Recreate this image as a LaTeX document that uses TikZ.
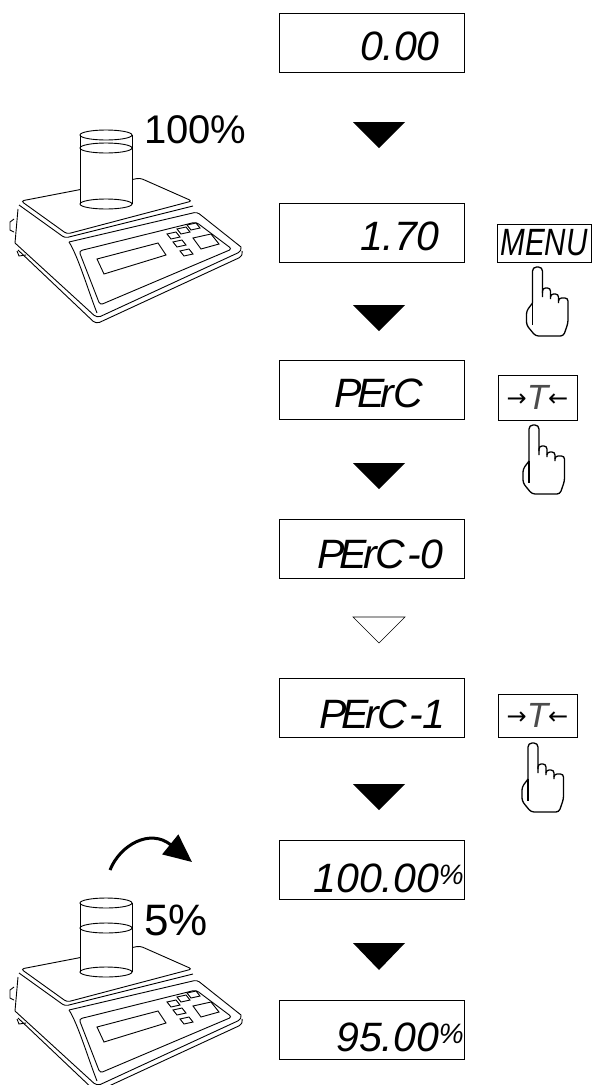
\documentclass[tikz,border=0pt]{standalone}
\usepackage{fontspec}
\setmainfont{Liberation Sans}
\newfontfamily\symfont{DejaVu Sans}
\usetikzlibrary{arrows.meta}

\tikzset{
  display/.style={draw, line width=0.8pt, minimum width=185pt, minimum height=59pt, inner sep=0pt},
  disptext/.style={font=\fontsize{41}{41}\selectfont\itshape, anchor=base east, inner sep=0pt},
  keybox/.style={draw, line width=0.8pt, inner sep=0pt},
  pcttext/.style={anchor=base west, inner sep=0pt},
  pics/hand/.style={code={
    \draw[line width=1.3pt, rounded corners=4pt] (-5,36) -- (-5,0) -- (5,0) -- (5,30);
    \draw[line width=1.3pt, rounded corners=3pt] (5,26) -- (5,21) -- (13,21) -- (13,32);
    \draw[line width=1.3pt, rounded corners=3pt] (13,30) -- (13,27) -- (21,27) -- (21,36);
    \draw[line width=1.3pt, rounded corners=3pt] (21,34) -- (21,31) -- (30.5,31) -- (30.5,56) -- (26,69) -- (-2,69) -- (-11,58) -- (-11,44) -- (-5,36);
    \draw[line width=1.3pt] (-5,36) -- (-5,58);
  }},
  pics/balance/.style={code={
    \begin{scope}[line width=0.9pt]
    % plate
    \draw[rounded corners=3pt] (21,201) -- (140,178) -- (192,201) -- (67,234) -- cycle;
    \draw[rounded corners=3pt] (19,205) -- (65,238) -- (193,206);
    % body
    \draw (18,209) -- (15,243);
    \draw[rounded corners=3pt] (69,242) -- (197,212) -- (241,247);
    \draw (69,242) .. controls (78,256) and (88,290) .. (97,313);
    \draw[rounded corners=4pt] (15,243) -- (97,318) -- (242,251) -- (241,247);
    \draw[rounded corners=4pt] (18,250) -- (96,324) -- (243,256) -- (242,251);
    \draw[rounded corners=3pt] (79,251) -- (196,222) -- (232,249) -- (100,305) -- cycle;
    % display and keys
    \draw (97,259) -- (158,243) -- (166,255) -- (104,274) -- cycle;
    \draw (167,234) -- (176,232) -- (180,237) -- (171,239) -- cycle;
    \draw (177,229) -- (186,227) -- (190,232) -- (181,234) -- cycle;
    \draw (187,225) -- (196,223) -- (200,228) -- (191,230) -- cycle;
    \draw (173,242) -- (182,240) -- (186,245) -- (177,247) -- cycle;
    \draw (180,251) -- (189,249) -- (193,254) -- (184,256) -- cycle;
    \draw (193,238) -- (211,234) -- (219,244) -- (201,249) -- cycle;
    % knob and foot
    \draw (14,219) -- (10,222) -- (10,230) -- (14,232);
    \draw (17,251) -- (19,256) -- (26,255);
    % glass
    \fill[white] (80,135) rectangle (132,204);
    \fill[white] (106,204) ellipse [x radius=26, y radius=5];
    \draw (80,135) -- (80,204);
    \draw (132,135) -- (132,204);
    \draw (106,135) ellipse [x radius=26, y radius=5];
    \draw (106,204) ellipse [x radius=26, y radius=5];
    \draw (106,#1) ellipse [x radius=26, y radius=5];
    \end{scope}
  }}
}

\begin{document}
\begin{tikzpicture}[x=1pt, y=-1pt]
\useasboundingbox (0,0) rectangle (592,1085);

% Displays
\node[display] (d0) at (372,42.5) {};
\node[display] (d1) at (372,233) {};
\node[display] (d2) at (372,389.5) {};
\node[display] (d3) at (372,548.5) {};
\node[display] (d4) at (372,707.5) {};
\node[display] (d5) at (372,870) {};
\node[display] (d6) at (372,1029.5) {};

\node[disptext] (t0) at (440,60) {0.00};
\node[disptext] (t1) at (440,250) {1.70};
\node[disptext] (t2) at (423,407) {P\kern-5ptE\kern-4ptr\kern-1ptC};
\node[disptext] (t3) at (444,568) {P\kern-5ptE\kern-4ptr\kern-1ptC\kern2pt-0};
\node[disptext] (t4) at (446,728) {P\kern-5ptE\kern-4ptr\kern-1ptC\kern2pt-1};
\node[disptext] (t5) at (464,892) {100.00\raisebox{8pt}{\fontsize{28}{28}\selectfont\%}};
\node[disptext] (t6) at (464,1051) {95.00\raisebox{8pt}{\fontsize{28}{28}\selectfont\%}};

% Steps
\fill (353,122) -- (405,122) -- (379,148) -- cycle;
\fill (353,305) -- (405,305) -- (379,331) -- cycle;
\fill (353,463) -- (405,463) -- (379,489) -- cycle;
\draw[line width=0.6pt] (353,617) -- (405,617) -- (379,643) -- cycle;
\fill (353,784) -- (405,784) -- (379,810) -- cycle;
\fill (353,943) -- (405,943) -- (379,970) -- cycle;

% Keys
\node[keybox, minimum width=94pt, minimum height=38pt] (menu) at (544,243)
  {\scalebox{0.78}[1]{\fontsize{38}{38}\selectfont\itshape MENU}};
\node[keybox, minimum width=79pt, minimum height=45pt] (tare1) at (537.5,397.5)
  {\raisebox{3pt}{\symfont\fontsize{24}{24}\selectfont →}{\fontsize{35}{35}\selectfont\itshape\color{black!70}T}\raisebox{3pt}{\symfont\fontsize{24}{24}\selectfont ←}};
\node[keybox, minimum width=79pt, minimum height=43pt] (tare2) at (537.5,715.5)
  {\raisebox{3pt}{\symfont\fontsize{24}{24}\selectfont →}{\fontsize{35}{35}\selectfont\itshape\color{black!70}T}\raisebox{3pt}{\symfont\fontsize{24}{24}\selectfont ←}};

\pic at (537.5,267) {hand};
\pic at (534,425) {hand};
\pic at (533,743) {hand};

% Scales
\pic at (0,0) {balance=148};
\pic at (0,768) {balance=160};
\node[pcttext, font=\fontsize{40}{40}\selectfont] (p100) at (144,143) {100\%};
\node[pcttext, font=\fontsize{44}{44}\selectfont] (p5) at (144,935) {5\%};
\draw[line width=3pt, -{Triangle[length=28pt,width=25pt]}] (110,870) .. controls (120,845) and (150,828) .. (192,862);
\end{tikzpicture}
\end{document}
